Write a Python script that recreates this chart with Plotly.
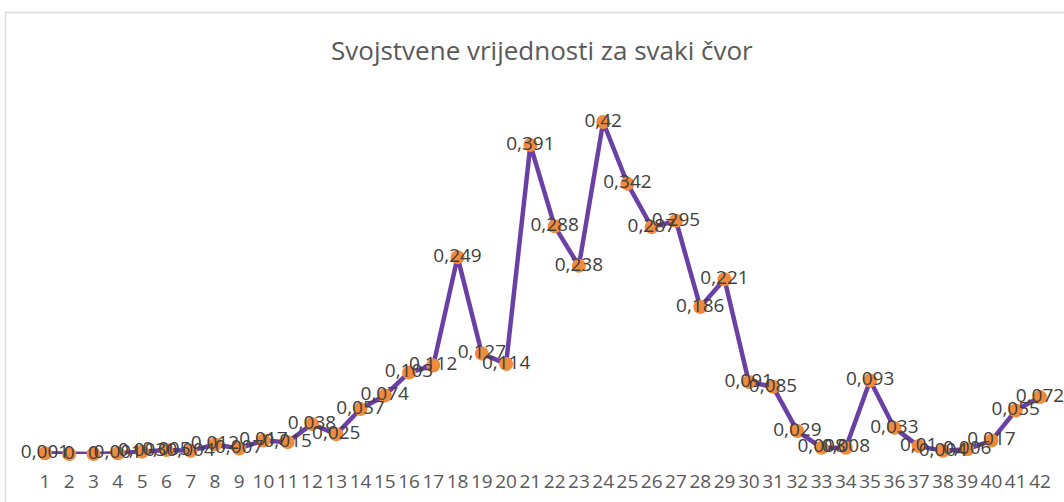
import plotly.graph_objects as go

# Eigenvector-style centrality per node
nodes = list(range(1, 43))
values = [0.001, 0.0, 0.0, 0.001, 0.003, 0.005, 0.004, 0.012, 0.007, 0.017,
          0.015, 0.038, 0.025, 0.057, 0.074, 0.103, 0.112, 0.249, 0.127, 0.114,
          0.391, 0.288, 0.238, 0.42, 0.342, 0.287, 0.295, 0.186, 0.221, 0.091,
          0.085, 0.029, 0.008, 0.008, 0.093, 0.033, 0.01, 0.004, 0.006, 0.017,
          0.055, 0.072]
tick_labels = [str(n) for n in nodes]
title_text = "Svojstvene vrijednosti za svaki čvor"

labels = [f"{v:g}".replace(".", ",") for v in values]

FONT = "Open Sans, Noto Sans, sans-serif"
W, H = 1064, 502
BOTTOM = 48          # space below the zero line for the category labels
PLOT_H = H - BOTTOM

fig = go.Figure()
fig.add_trace(go.Scatter(
    x=nodes, y=values,
    mode="lines+markers+text",
    text=labels,
    textposition="middle center",
    textfont=dict(family=FONT, size=19, color="#404040"),
    line=dict(color="#6B40A5", width=4.5),
    marker=dict(color="#F08A3C", size=14, line=dict(width=0)),
    cliponaxis=False,
    showlegend=False,
))

# pixel scale: category 1 at x=45, category 42 at x=1040
px_per_cat = (1040 - 45) / 41
x_lo = 1 - 45 / px_per_cat
x_hi = 1 + (W - 45) / px_per_cat
# value scale: 0 at y=454, 0.42 at y=122
px_per_unit = (454 - 122) / 0.42
y_hi = PLOT_H / px_per_unit

fig.update_layout(
    width=W, height=H,
    margin=dict(l=0, r=0, t=0, b=BOTTOM, pad=0),
    paper_bgcolor="white", plot_bgcolor="white",
    xaxis=dict(
        range=[x_lo, x_hi], tickmode="array", tickvals=nodes, ticktext=tick_labels,
        showgrid=False, zeroline=False, showline=False, ticks="",
        ticklabelstandoff=14,
        tickfont=dict(family=FONT, size=19, color="#595959"),
    ),
    yaxis=dict(range=[0, y_hi], visible=False, showgrid=False, zeroline=False),
    annotations=[dict(
        text=title_text, xref="paper", yref="paper",
        x=542 / W, y=(PLOT_H - 50) / PLOT_H, xanchor="center", yanchor="middle",
        showarrow=False,
        font=dict(family=FONT, size=26, color="#595959"),
    )],
    shapes=[
        # chart frame: top edge and left edge
        dict(type="line", xref="paper", yref="paper",
             x0=5.5 / W, x1=1.0, y0=(PLOT_H - 12.5) / PLOT_H, y1=(PLOT_H - 12.5) / PLOT_H,
             line=dict(color="#D9D9D9", width=1.5)),
        dict(type="line", xref="paper", yref="paper",
             x0=5.5 / W, x1=5.5 / W, y0=(PLOT_H - 12.5) / PLOT_H, y1=-BOTTOM / PLOT_H,
             line=dict(color="#D9D9D9", width=1.5)),
    ],
)

fig.write_html("out.html")
